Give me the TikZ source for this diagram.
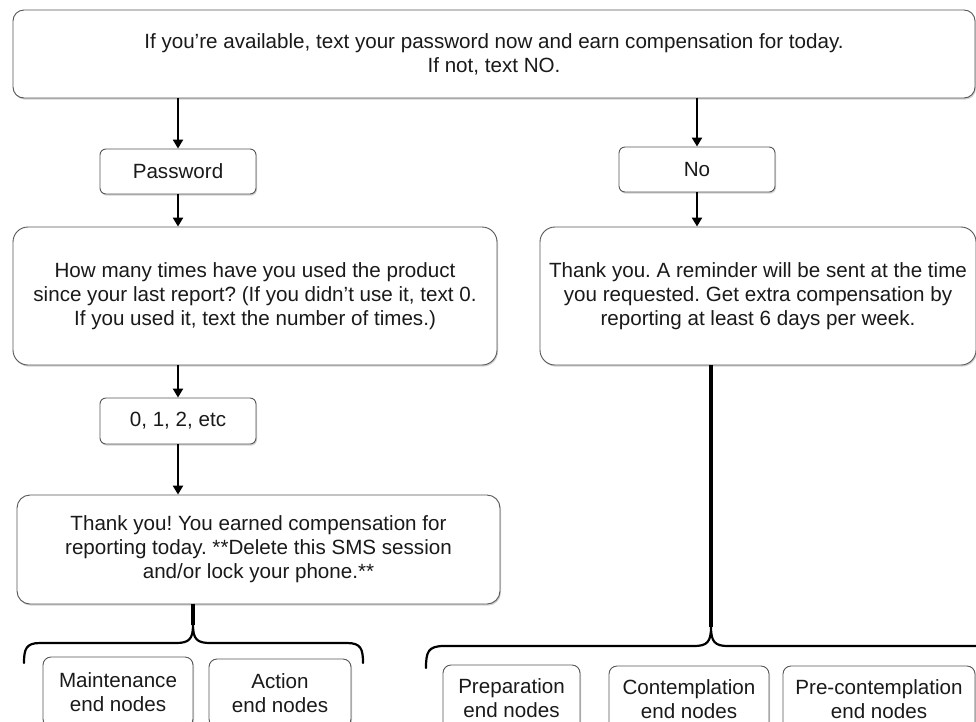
\documentclass[tikz,border=0pt]{standalone}
\usepackage{fontspec}
\setmainfont{Liberation Sans}
\usetikzlibrary{shadows,arrows.meta}
\definecolor{boxline}{HTML}{555555}
\definecolor{txt}{HTML}{1A1A1A}
\frenchspacing
\tikzset{
  box/.style={draw=boxline, line width=0.9pt, fill=white, align=center, text=txt,
    font=\fontsize{20.6}{24}\selectfont\frenchspacing, inner sep=0pt,
    drop shadow={shadow xshift=1pt, shadow yshift=-1.6pt, opacity=0.35, fill=gray}},
  arr/.style={line width=2.3pt, -{Triangle[length=9pt,width=10pt]}},
  thick line/.style={line width=3.6pt},
  bracepath/.style={line width=2.2pt, line cap=round, line join=round},
}
\begin{document}
\begin{tikzpicture}[x=1pt,y=-1pt]
\useasboundingbox[fill=white] (0,0) rectangle (976,721);

% top box
\node[box, rounded corners=11pt, minimum width=962pt, minimum height=88pt] (top) at (494,54)
  {If you’re available, text your password now and earn compensation for today.\\If not, text NO.};

% left column
\node[box, rounded corners=6pt, minimum width=156pt, minimum height=45pt] (pw) at (178,171.5) {Password};
\node[box, rounded corners=15pt, minimum width=484pt, minimum height=138pt] (how) at (255,296)
  {How many times have you used the product\\since your last report? (If you didn’t use it, text 0.\\If you used it, text the number of times.)};
\node[box, rounded corners=6pt, minimum width=156pt, minimum height=46pt] (zero) at (178,421) {0, 1, 2, etc};
\node[box, rounded corners=13pt, minimum width=483pt, minimum height=109pt] (ty1) at (258.5,549.5)
  {Thank you! You earned compensation for\\reporting today. **Delete this SMS session\\and/or lock your phone.**};

% right column
\node[box, rounded corners=6pt, minimum width=156pt, minimum height=45pt, text depth=0pt] (no) at (697,169.5) {No};
\node[box, rounded corners=15pt, minimum width=436pt, minimum height=138pt] (ty2) at (758,296)
  {Thank you. A reminder will be sent at the time\\you requested. Get extra compensation by\\reporting at least 6 days per week.};

% end nodes
\node[box, rounded corners=8pt, minimum width=150pt, minimum height=70pt] (maint) at (118,692) {Maintenance\\end nodes};
\node[box, rounded corners=8pt, minimum width=142pt, minimum height=68pt] (action) at (280,693) {Action\\end nodes};
\node[box, rounded corners=8pt, minimum width=137pt, minimum height=66pt] (prep) at (511.5,698) {Preparation\\end nodes};
\node[box, rounded corners=8pt, minimum width=160pt, minimum height=66pt] (cont) at (689,699) {Contemplation\\end nodes};
\node[box, rounded corners=8pt, minimum width=192pt, minimum height=66pt] (pre) at (879,699) {Pre-contemplation\\end nodes};

% arrows
\draw[arr] (top.south -| pw.north) -- (pw.north);
\draw[arr] (pw.south) -- (pw.south |- how.north);
\draw[arr] (how.south -| zero.north) -- (zero.north);
\draw[arr] (zero.south) -- (zero.south |- ty1.north);
\draw[arr] (top.south -| no.north) -- (no.north);
\draw[arr] (no.south) -- (no.south |- ty2.north);

% braces
\coordinate (tipL) at (193,625);
\coordinate (tipR) at (711,627);
\draw[thick line] (ty1.south -| tipL) -- (tipL);
\draw[thick line] (ty2.south -| tipR) -- (tipR);
\draw[bracepath] (24,663) .. controls (24,649) and (26,643) .. (40,643) -- (176,643)
  .. controls (189,643) and (193,639) .. (tipL)
  .. controls (193,639) and (197,643) .. (210,643) -- (347,643)
  .. controls (361,643) and (363,649) .. (363,663);
\draw[bracepath] (426,668) .. controls (426,652) and (428,646) .. (444,646) -- (694,646)
  .. controls (707,646) and (711,642) .. (tipR)
  .. controls (711,642) and (715,646) .. (728,646) -- (978,646)
  .. controls (994,646) and (996,652) .. (996,668);
\end{tikzpicture}
\end{document}
